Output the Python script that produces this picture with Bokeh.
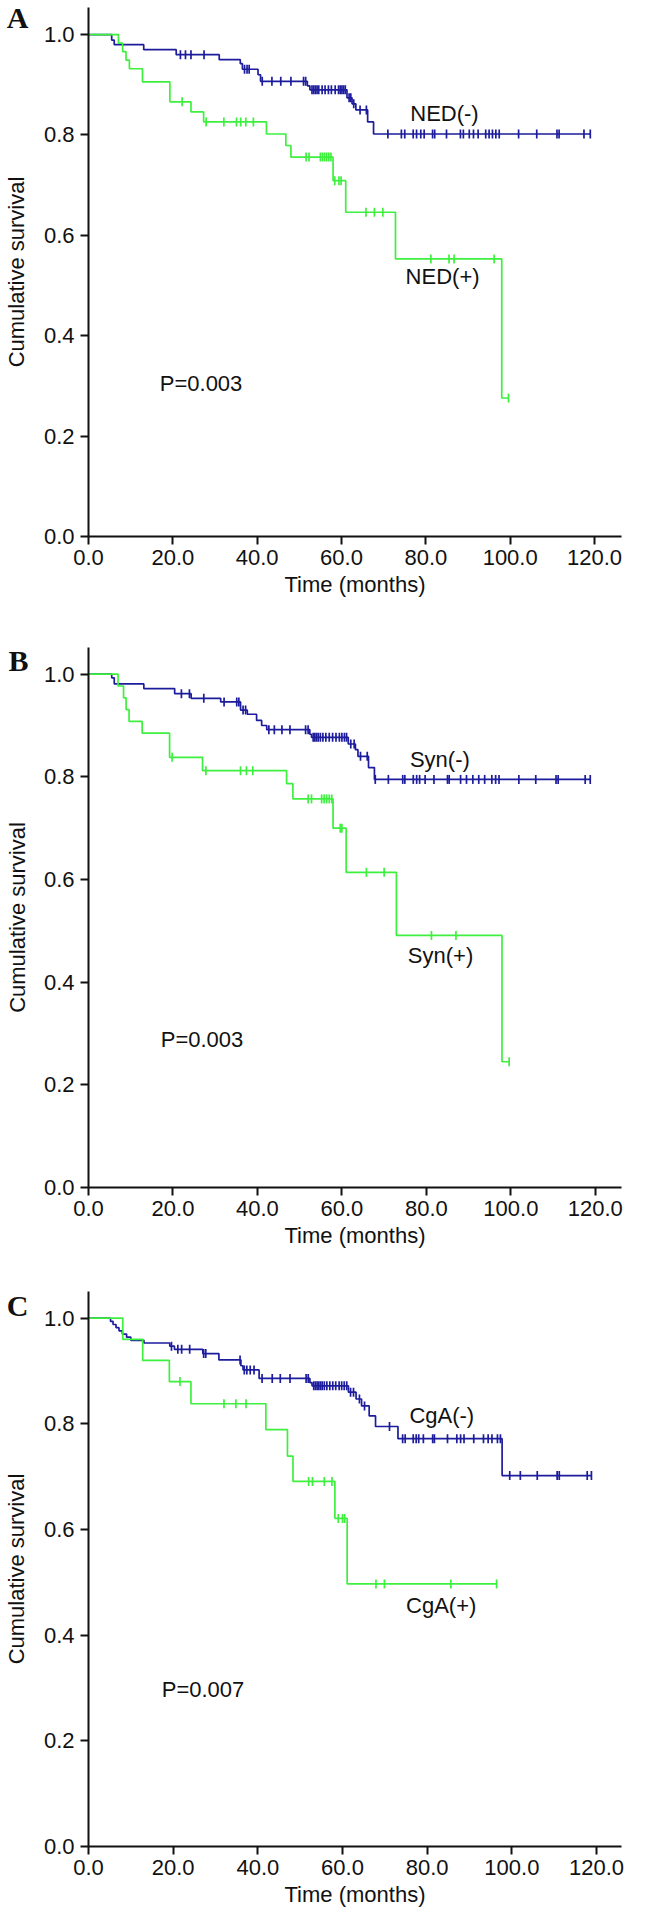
import numpy as np
from bokeh.plotting import figure
from bokeh.models import Range1d, FixedTicker, Label, NumeralTickFormatter, LinearAxis
from bokeh.layouts import column
from bokeh.embed import file_html
from bokeh.resources import INLINE

SANS = "'Liberation Sans', Arial, sans-serif"
SERIF = "'Liberation Serif', 'Times New Roman', serif"
BLUE = "#1c1c9c"
GREEN = "#3ef03e"

x_ticks = [0, 20, 40, 60, 80, 100, 120]
x_tick_labels = ["0.0", "20.0", "40.0", "60.0", "80.0", "100.0", "120.0"]
y_ticks = [0.0, 0.2, 0.4, 0.6, 0.8, 1.0]
y_tick_labels = ["0.0", "0.2", "0.4", "0.6", "0.8", "1.0"]

# ---- Panel A: NED ----
a_neg_t = [5.5, 6.1, 13.1, 20.8, 31.0, 36.0, 36.5, 40.2, 40.8, 51.9, 52.5, 61.3, 62.5, 63.4, 66.2, 67.6]
a_neg_s = [0.989, 0.980, 0.970, 0.960, 0.950, 0.942, 0.931, 0.920, 0.907, 0.898, 0.890, 0.874, 0.862, 0.850, 0.826, 0.802]
a_neg_c = [21.8, 23.0, 24.3, 27.4, 37.0, 37.6, 38.1, 41.2, 43.5, 45.6, 48.0, 51.0, 51.5, 53.0, 53.4, 53.8,
           54.2, 54.6, 55.4, 56.1, 56.9, 57.6, 58.5, 59.3, 59.7, 60.1, 60.5, 60.9, 61.8, 62.2, 62.9, 64.4,
           65.9, 71.0, 74.2, 75.0, 77.0, 77.8, 78.8, 79.6, 81.6, 82.1, 84.9, 88.2, 88.9, 90.3, 91.3, 92.4,
           94.2, 95.0, 95.8, 96.6, 97.4, 102.0, 106.3, 111.1, 111.6, 117.5, 119.0]
a_pos_t = [7.1, 8.1, 8.9, 9.7, 12.8, 19.3, 24.3, 27.3, 42.2, 46.8, 48.0, 58.0, 61.0, 72.8, 98.0]
a_pos_s = [0.983, 0.966, 0.949, 0.932, 0.906, 0.866, 0.846, 0.826, 0.802, 0.779, 0.756, 0.709, 0.646, 0.553, 0.276]
a_pos_c = [22.2, 27.9, 32.1, 35.1, 36.1, 37.3, 39.1, 51.6, 52.3, 55.0, 55.5, 56.0, 56.5, 57.0, 57.5,
           58.4, 59.4, 59.9, 65.8, 67.8, 69.8, 81.2, 85.5, 86.7, 96.2, 99.6]

# ---- Panel B: Syn ----
b_neg_t = [5.5, 6.1, 13.1, 20.4, 24.3, 31.3, 36.0, 37.6, 39.8, 41.0, 42.2, 52.4, 52.8, 61.5, 63.2, 63.8, 66.3, 67.7]
b_neg_s = [0.993, 0.981, 0.972, 0.962, 0.953, 0.946, 0.930, 0.922, 0.910, 0.900, 0.892, 0.883, 0.877, 0.864, 0.853, 0.840, 0.818, 0.795]
b_neg_c = [22.0, 23.9, 27.3, 32.1, 35.1, 35.6, 36.6, 37.2, 42.7, 44.0, 45.8, 47.7, 51.4, 52.0, 53.2, 53.6,
           54.0, 54.4, 54.9, 55.5, 56.2, 57.0, 57.8, 58.6, 59.4, 60.0, 60.6, 61.1, 62.1, 62.9, 64.4, 66.0,
           67.9, 71.0, 74.4, 74.9, 76.9, 77.7, 78.4, 79.7, 81.8, 85.0, 85.4, 88.1, 89.5, 91.0, 92.4, 93.8,
           95.5, 96.4, 97.2, 101.9, 105.9, 110.7, 111.2, 117.6, 118.8]
b_pos_t = [7.0, 8.3, 8.9, 9.6, 12.7, 19.2, 27.0, 46.9, 48.4, 57.9, 61.0, 72.9, 97.9]
b_pos_s = [0.977, 0.954, 0.931, 0.908, 0.885, 0.838, 0.812, 0.787, 0.757, 0.700, 0.614, 0.491, 0.245]
b_pos_c = [19.8, 27.8, 36.0, 37.4, 38.9, 52.0, 52.8, 55.2, 55.8, 56.4, 57.0, 57.6, 59.6, 60.0, 65.8,
           70.0, 81.2, 87.0, 99.6]

# ---- Panel C: CgA ----
c_neg_t = [5.2, 5.8, 6.5, 7.2, 8.0, 9.0, 10.0, 13.1, 19.2, 20.3, 27.0, 30.8, 36.0, 36.5, 40.3, 52.3,
           52.8, 61.4, 63.2, 64.5, 66.3, 67.8, 73.1, 97.7]
c_neg_s = [0.994, 0.988, 0.982, 0.976, 0.970, 0.964, 0.958, 0.953, 0.947, 0.941, 0.933, 0.921, 0.910,
           0.902, 0.886, 0.878, 0.872, 0.860, 0.847, 0.834, 0.815, 0.795, 0.772, 0.702]
c_neg_c = [19.6, 21.1, 22.0, 23.9, 27.2, 27.7, 35.8, 36.8, 37.4, 38.2, 39.1, 41.0, 43.4, 45.3, 47.6,
           51.4, 51.9, 53.2, 53.6, 54.0, 54.4, 54.8, 55.2, 55.7, 56.3, 57.0, 57.7, 58.4, 59.2, 59.8,
           60.4, 61.0, 61.9, 62.6, 64.0, 65.2, 71.1, 74.2, 74.8, 76.7, 77.4, 78.0, 79.1, 81.3, 81.7,
           84.8, 87.0, 87.9, 88.7, 91.0, 93.3, 94.4, 95.3, 96.6, 97.3, 99.5, 102.0, 106.0, 110.7,
           111.2, 117.8, 118.8]
c_pos_t = [8.1, 12.8, 19.1, 24.2, 41.9, 47.0, 48.3, 58.2, 61.1]
c_pos_s = [0.960, 0.920, 0.880, 0.838, 0.789, 0.739, 0.691, 0.621, 0.497]
c_pos_c = [21.6, 32.0, 34.8, 37.2, 52.0, 52.9, 55.7, 57.5, 59.0, 60.0, 60.5, 67.9, 69.9, 85.6, 96.4]


def step_arrays(times, surv, cens):
    t = np.array(times, dtype=float)
    s = np.array(surv, dtype=float)
    c = np.array(cens, dtype=float)
    end = max(t.max(), c.max())
    xs = np.concatenate([[0.0], t, [end]])
    ys = np.concatenate([[1.0], s, [s[-1]]])
    idx = np.searchsorted(t, c, side="right") - 1
    cy = np.where(idx >= 0, s[np.clip(idx, 0, None)], 1.0)
    return xs, ys, c, cy


def km_panel(letter, letter_y, groups, p_text, p_xy, x_end, y_end,
             frame_w, frame_h, top, bottom):
    width = 636
    left = 81
    p = figure(width=width, height=top + frame_h + bottom,
               x_range=Range1d(0, x_end), y_range=Range1d(0, y_end),
               output_backend="svg", toolbar_location=None,
               x_axis_location=None, y_axis_location=None,
               min_border_left=left, min_border_right=width - left - frame_w,
               min_border_top=top, min_border_bottom=bottom)
    p.xgrid.visible = False
    p.ygrid.visible = False
    p.outline_line_color = None
    p.background_fill_color = "white"
    p.border_fill_color = "white"

    xaxis = LinearAxis(axis_label="Time (months)",
                       ticker=FixedTicker(ticks=x_ticks),
                       formatter=NumeralTickFormatter(format="0.0"))
    xaxis.major_label_overrides = {t: l for t, l in zip(x_ticks, x_tick_labels)}
    yaxis = LinearAxis(ticker=FixedTicker(ticks=y_ticks),
                       formatter=NumeralTickFormatter(format="0.0"))
    yaxis.major_label_overrides = {t: l for t, l in zip(y_ticks, y_tick_labels)}
    p.add_layout(xaxis, "below")
    p.add_layout(yaxis, "left")

    for ax in (xaxis, yaxis):
        ax.axis_line_width = 2
        ax.axis_line_color = "#111111"
        ax.major_tick_line_width = 2
        ax.major_tick_line_color = "#111111"
        ax.major_tick_in = 0
        ax.major_tick_out = 8
        ax.minor_tick_line_color = None
        ax.major_label_text_font = SANS
        ax.major_label_text_font_size = "22px"
        ax.major_label_text_color = "#111111"
    xaxis.axis_label_text_font = SANS
    xaxis.axis_label_text_font_size = "22px"
    xaxis.axis_label_text_font_style = "normal"
    xaxis.axis_label_text_color = "#111111"
    xaxis.major_label_standoff = 5
    xaxis.axis_label_standoff = 4
    yaxis.major_label_standoff = 6

    # outer left guide: carries the panel letter (as its only tick label)
    # and the y axis title
    outer = LinearAxis(ticker=FixedTicker(ticks=[letter_y]),
                       axis_label="Cumulative survival")
    outer.major_label_overrides = {letter_y: letter, str(letter_y): letter}
    outer.axis_line_color = None
    outer.major_tick_line_color = None
    outer.minor_tick_line_color = None
    outer.major_tick_in = 0
    outer.major_tick_out = 0
    outer.major_label_standoff = 12
    outer.major_label_text_font = SERIF
    outer.major_label_text_font_style = "bold"
    outer.major_label_text_font_size = "30px"
    outer.major_label_text_color = "#111111"
    outer.axis_label_text_font = SANS
    outer.axis_label_text_font_size = "22px"
    outer.axis_label_text_font_style = "normal"
    outer.axis_label_text_color = "#111111"
    outer.axis_label_standoff = -25
    p.add_layout(outer, "left")

    for (name, t, s, c, color, lxy) in groups:
        xs, ys, cx, cy = step_arrays(t, s, c)
        p.step(xs, ys, mode="after", line_color=color, line_width=1.7)
        p.scatter(cx, cy, marker="dash", angle=np.pi / 2, size=9,
                  line_color=color, line_width=1.7)
        p.add_layout(Label(x=lxy[0], y=lxy[1], text=name, text_font=SANS,
                           text_font_size="22px", text_color="#111111",
                           text_align="left", text_baseline="middle"))

    p.add_layout(Label(x=p_xy[0], y=p_xy[1], text=p_text, text_font=SANS,
                       text_font_size="22px", text_color="#111111",
                       text_align="left", text_baseline="middle"))
    return p


pA = km_panel("A", 1.036,
              [("NED(-)", a_neg_t, a_neg_s, a_neg_c, BLUE, (76.3, 0.842)),
               ("NED(+)", a_pos_t, a_pos_s, a_pos_c, GREEN, (75.2, 0.518))],
              "P=0.003", (16.9, 0.304), 126.4, 1.054, 551, 529, 7, 96)
pB = km_panel("B", 1.027,
              [("Syn(-)", b_neg_t, b_neg_s, b_neg_c, BLUE, (76.1, 0.834)),
               ("Syn(+)", b_pos_t, b_pos_s, b_pos_c, GREEN, (75.6, 0.451))],
              "P=0.003", (17.1, 0.289), 126.2, 1.052, 540, 540, 15, 85)
pC = km_panel("C", 1.0246,
              [("CgA(-)", c_neg_t, c_neg_s, c_neg_c, BLUE, (75.8, 0.816)),
               ("CgA(+)", c_pos_t, c_pos_s, c_pos_c, GREEN, (75.0, 0.456))],
              "P=0.007", (17.3, 0.298), 125.9, 1.0505, 553, 555, 19, 69)

layout = column(pA, pB, pC, spacing=0)
open("out.html", "w").write(file_html(layout, INLINE))
